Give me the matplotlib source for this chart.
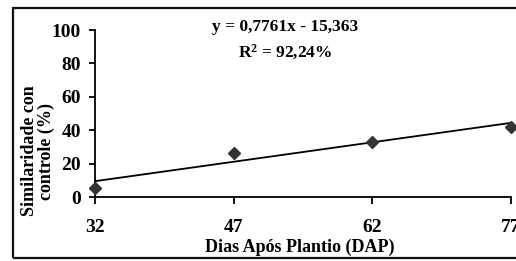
import numpy as np
import matplotlib
matplotlib.use('Agg')
import matplotlib.pyplot as plt
from matplotlib.patches import Rectangle

# Data
dap = [32, 47, 62, 77]
similaridade = [5.2, 26.5, 33.0, 42.0]
x_ticks = [32, 47, 62, 77]
y_ticks = [0, 20, 40, 60, 80, 100]

# Trend line from the equation shown on the chart
slope = 0.7761
intercept = -15.363

plt.rcParams['font.family'] = 'Liberation Serif'
plt.rcParams['font.weight'] = 'bold'
plt.rcParams['mathtext.fontset'] = 'custom'
plt.rcParams['mathtext.rm'] = 'Liberation Serif:bold'
plt.rcParams['mathtext.it'] = 'Liberation Serif:bold'
plt.rcParams['mathtext.bf'] = 'Liberation Serif:bold'

W, H = 516, 261
fig = plt.figure(figsize=(W / 100, H / 100), dpi=100)
ax = fig.add_axes([95 / W, 64 / H, 416 / W, 167 / H])

# Outer frame (right edge runs off the picture)
fig.patches.append(Rectangle((13 / W, 3 / H), 1.2, 1 - 11 / H,
                             transform=fig.transFigure, fill=False,
                             edgecolor='#111111', linewidth=1.6, clip_on=False))

x_line = np.array([dap[0], dap[-1]])
ax.plot(x_line, slope * x_line + intercept, color='black', linewidth=1.3)
ax.plot(dap, similaridade, linestyle='none', marker='D', markersize=6.5,
        color='#333333', clip_on=False, zorder=3)

ax.set_xlim(32, 77)
ax.set_ylim(0, 100)
ax.set_xticks(x_ticks)
ax.set_yticks(y_ticks)
ax.spines['top'].set_visible(False)
ax.spines['right'].set_visible(False)
for s in ['left', 'bottom']:
    ax.spines[s].set_linewidth(1.3)
ax.tick_params(axis='x', direction='out', length=5, width=1.3, pad=11, labelsize=14)
ax.tick_params(axis='y', direction='out', length=4, width=1.3, pad=6, labelsize=14)
for lab in ax.get_xticklabels() + ax.get_yticklabels():
    lab.set_fontweight('bold')

ax.set_xlabel('Dias Após Plantio (DAP)', fontsize=13, fontweight='bold', va='center')
ax.xaxis.set_label_coords((300 - 95) / 416, (197 - 247) / 167)
ax.set_ylabel('Similaridade con\ncontrole (%)', fontsize=13, fontweight='bold',
              va='center', ha='center', linespacing=0.95)
ax.yaxis.set_label_coords((38 - 95) / 416, (197 - 151) / 167)

fig.text(285 / W, 1 - 27 / H, 'y = 0,7761x - 15,363', ha='center', va='center',
         fontsize=12.5, fontweight='bold')
fig.text(285 / W, 1 - 52 / H, r'R$^{2}$ = 92,24%', ha='center', va='center',
         fontsize=12.5, fontweight='bold')

fig.savefig('out.png', dpi=100)
